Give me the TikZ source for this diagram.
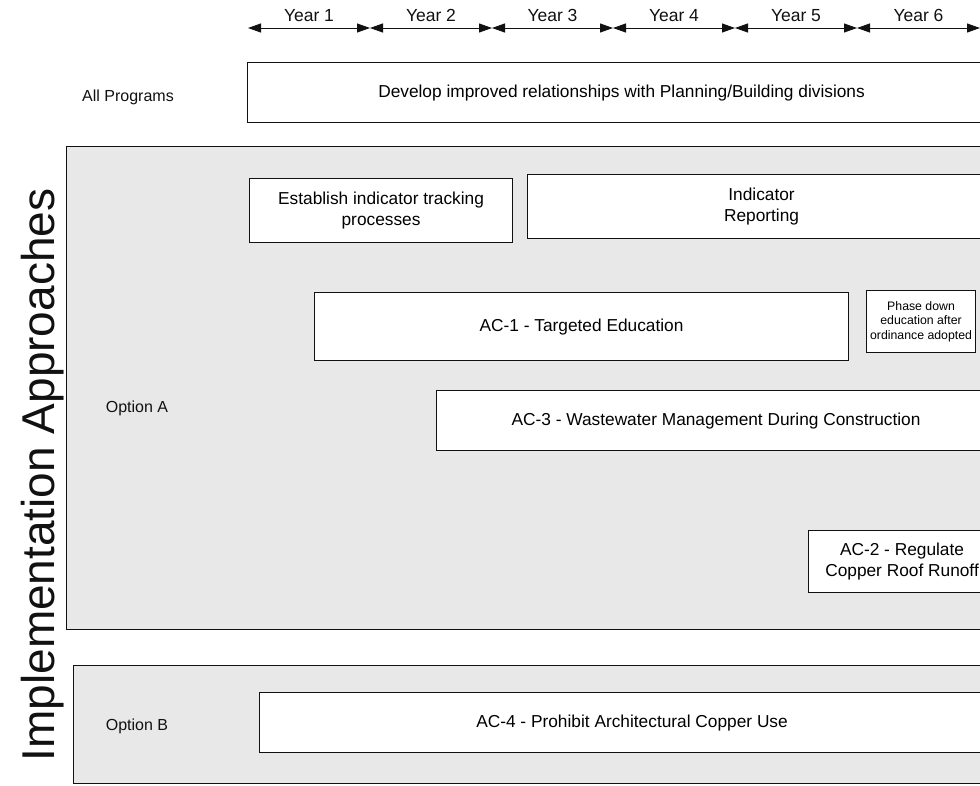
\documentclass[tikz,border=0pt]{standalone}
\usepackage{fontspec}
\setmainfont{Liberation Sans}
\usetikzlibrary{positioning, arrows.meta}
\definecolor{Stipple}{HTML}{E8E8E8}
\definecolor{Ink}    {HTML}{111111}

\begin{document}
\begin{tikzpicture}[x=1pt, y=-1pt,
    task/.style={draw=Ink, line width=1.1pt, fill=white, inner sep=0pt,
      anchor=north west, align=center, font=\fontsize{17.3}{21}\selectfont},
    panel/.style={draw=Ink, line width=0.8pt, fill=Stipple, inner sep=0pt,
      anchor=north west},
    rowlab/.style={font=\fontsize{16}{19}\selectfont, text=Ink},
    yeararrow/.style={draw=Ink, line width=1pt,
      {Triangle[length=13pt,width=9pt]}-{Triangle[length=13pt,width=9pt]}}
  ]
      \useasboundingbox (0,0) rectangle (980,785);
      \clip (0,0) rectangle (980,785);
      \fill[white] (0,0) rectangle (980,785);
      % ── timeline: one arrow per year ─────────────────────────────────────────
      \foreach \i/\x in {0/248, 1/370, 2/492, 3/613, 4/735, 5/857, 6/980} {
        \coordinate (t\i) at (\x, 28);
      }
      \foreach \i/\j in {0/1, 1/2, 2/3, 3/4, 4/5, 5/6} {
        \draw[yeararrow] (t\i) -- (t\j)
          node[midway, above=2pt, font=\fontsize{17.5}{20}\selectfont, text=Ink] (yr\j) {Year \j};
      }
      % ── all programs row ─────────────────────────────────────────────────────
      \node[rowlab] (allprog) at (128, 97) {All Programs};
      \node[task, minimum width=748pt, minimum height=60pt] (develop) at (247, 62)
        {Develop improved relationships with Planning/Building divisions};
      % ── option A panel ───────────────────────────────────────────────────────
      \node[panel, minimum width=930pt, minimum height=483pt] (panelA) at (66, 146) {};
      \node[rowlab] (opta) at (137, 408) {Option A};
      \node[task, minimum width=263pt, minimum height=64pt] (tracking) at (249, 178)
        {Establish indicator tracking\\processes};
      \node[task, minimum width=468pt, minimum height=64pt] (reporting) at (527, 174)
        {Indicator\\Reporting};
      \node[task, minimum width=534pt, minimum height=68pt] (acone) at (314, 292)
        {AC-1 - Targeted Education};
      \node[task, minimum width=109pt, minimum height=62pt,
            font=\fontsize{12.3}{14.5}\selectfont] (phase) at (866, 290)
        {Phase down\\education after\\ordinance adopted};
      \node[task, minimum width=559pt, minimum height=60pt] (acthree) at (436, 390)
        {AC-3 - Wastewater Management During Construction};
      \node[task, minimum width=187pt, minimum height=62pt] (actwo) at (808, 530)
        {AC-2 - Regulate\\Copper Roof Runoff};
      % ── option B panel ───────────────────────────────────────────────────────
      \node[panel, minimum width=922pt, minimum height=118pt] (panelB) at (73, 665) {};
      \node[rowlab] (optb) at (137, 726) {Option B};
      \node[task, minimum width=745pt, minimum height=60pt] (acfour) at (259, 692)
        {AC-4 - Prohibit Architectural Copper Use};
      % ── side title ───────────────────────────────────────────────────────────
      \node[rotate=90, font=\fontsize{46}{50}\selectfont, text=Ink] (sidetitle) at (43, 475)
        {Implementation Approaches};
\end{tikzpicture}
\end{document}
